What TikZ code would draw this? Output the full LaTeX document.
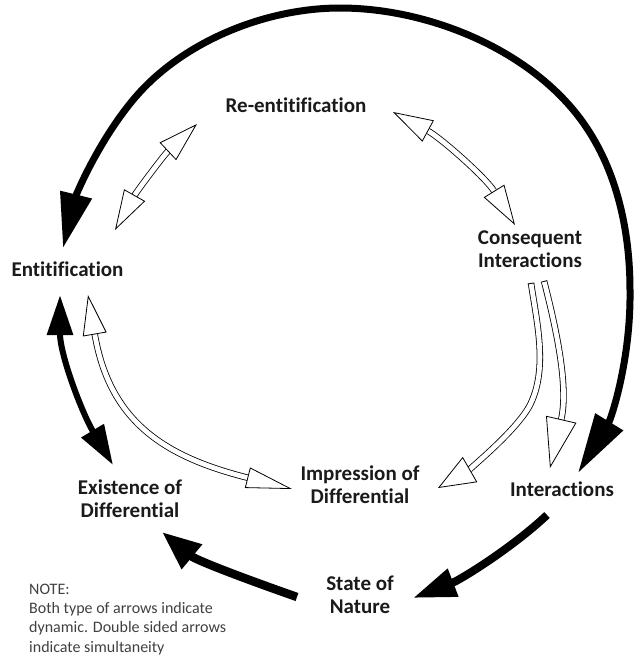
\documentclass[tikz,border=0pt]{standalone}
\usepackage{fontspec}
\setmainfont{Carlito}[Ligatures=NoCommon]
\usetikzlibrary{arrows.meta}
\definecolor{notegray}{HTML}{404040}
\definecolor{lblblack}{HTML}{1A1A1A}
\tikzset{
  bigtipL/.tip={Triangle[length=55pt,width=31pt]},
  bigtipR/.tip={Triangle[length=60pt,width=31pt]},
  midtip/.tip={Triangle[length=40pt,width=25pt]},
  bltip/.tip={Triangle[length=39pt,width=30pt]},
  brtip/.tip={Triangle[length=43pt,width=28pt]},
  wtip/.tip={Triangle[length=40pt,width=24pt,fill=white,line width=0.8pt]},
  wtiplong/.tip={Triangle[length=46pt,width=21pt,fill=white,line width=0.8pt]},
  wtipA/.tip={Triangle[length=37pt,width=29pt,fill=white,line width=0.8pt]},
  wtipB/.tip={Triangle[length=50pt,width=31pt,fill=white,line width=0.8pt]},
  wtail/.tip={Bar[width=6.6pt,line width=0.8pt]},
  lbl/.style={font=\bfseries\fontsize{21}{22.8}\selectfont, text=lblblack, inner sep=0pt, align=center, anchor=base},
  notetext/.style={font=\fontsize{16}{19.2}\selectfont, text=notegray, inner sep=0pt, align=left, anchor=base west},
  blkarc/.style={draw=black, line width=7pt},
  blkmid/.style={draw=black, line width=6pt},
  blkfat/.style={draw=black, line width=8.5pt},
  whtarrow/.style={draw=black, line width=0.8pt, double=white, double distance=4.8pt},
}
\begin{document}
\begin{tikzpicture}[x=1pt,y=-1pt]
\useasboundingbox (0,0) rectangle (633,657);

% labels (anchor = baseline of last line)
\node[lbl] (reent) at (296,112.5) {Re-entitification};
\node[lbl] (ent) at (67.5,276) {Entitification};
\node[lbl] (cons) at (530,267.5) {Consequent\\Interactions};
\node[lbl] (impr) at (360,503.5) {Impression of\\Differential};
\node[lbl] (exist) at (130,517.5) {Existence of\\Differential};
\node[lbl] (inter) at (562,496.5) {Interactions};
\node[lbl] (state) at (360,613.5) {State of\\Nature};
\node[notetext] (note) at (29,652) {NOTE:\\Both type of arrows indicate\\dynamic. Double sided arrows\\indicate simultaneity};

% end points of connectors
\coordinate (arcL) at (63,248);
\coordinate (arcR) at (578,473);
\coordinate (entBot) at (60,295);
\coordinate (existTop) at (113,465);
\coordinate (stateL) at (297,597);
\coordinate (existBot) at (162,532);
\coordinate (interBot) at (547,515);
\coordinate (stateR) at (413,598);
\coordinate (entTop) at (115,230);
\coordinate (reentL) at (197,124);
\coordinate (reentR) at (393,112);
\coordinate (consTop) at (515,225);
\coordinate (entBot2) at (88,295);
\coordinate (imprL) at (292,489);
\coordinate (consBotA) at (531,283);
\coordinate (imprR) at (438,488);
\coordinate (consBotB) at (544,281);
\coordinate (interTop) at (550,468);

% big black arc
\draw[blkarc, {bigtipL}-{bigtipR}] (arcL) .. controls (76,195) and (98,142) .. (133,100)
  .. controls (181,42) and (265,8) .. (340,8)
  .. controls (433,8) and (541,54) .. (590,133)
  .. controls (619,179) and (630,236) .. (630,290)
  .. controls (631,360) and (611,419) .. (arcR);

% black double arrow Entitification <-> Existence
\draw[blkmid, {midtip}-{midtip}] (entBot) .. controls (60,355) and (82,413) .. (existTop);

% State of Nature -> Existence of Differential
\draw[blkfat, -{bltip}] (stateL) .. controls (257,583) and (197,561) .. (existBot);

% Interactions -> State of Nature
\draw[blkfat, line width=8pt, -{brtip}] (interBot) .. controls (512,548) and (460,580) .. (stateR);

% white arrows
\draw[whtarrow, {wtip}-{wtip}] (entTop) .. controls (137,191) and (164,155) .. (reentL);
\draw[whtarrow, {wtip}-{wtip}] (reentR) .. controls (441,138) and (486,178) .. (consTop);
\draw[whtarrow, {wtip}-{wtiplong}] (entBot2) .. controls (110,423) and (166,457) .. (imprL);
\draw[whtarrow, {wtail}-{wtipA}] (consBotA) .. controls (537,323) and (548,369) .. (530,405)
  .. controls (516,432) and (464,473) .. (imprR);
\draw[whtarrow, {wtail}-{wtipB}] (consBotB) .. controls (559,339) and (568,390) .. (interTop);
\end{tikzpicture}
\end{document}
